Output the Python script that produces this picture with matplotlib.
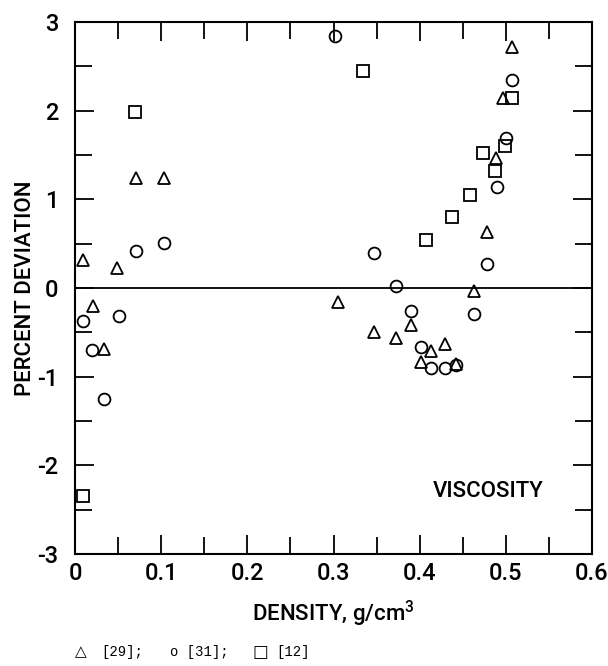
import matplotlib
matplotlib.use("Agg")
import matplotlib.pyplot as plt
from matplotlib.ticker import MultipleLocator

# deviation data, percent vs density (g/cm3)
tri_x = [0.009, 0.021, 0.034, 0.049, 0.071, 0.103, 0.305, 0.347, 0.372, 0.390,
         0.401, 0.413, 0.429, 0.442, 0.463, 0.478, 0.489, 0.497, 0.507]
tri_y = [0.32, -0.20, -0.69, 0.22, 1.24, 1.24, -0.16, -0.50, -0.56, -0.42,
         -0.83, -0.71, -0.63, -0.86, -0.03, 0.63, 1.47, 2.14, 2.72]

circ_x = [0.009, 0.020, 0.034, 0.051, 0.071, 0.103, 0.302, 0.347, 0.372, 0.390,
          0.402, 0.413, 0.429, 0.442, 0.463, 0.478, 0.490, 0.500, 0.507]
circ_y = [-0.37, -0.70, -1.25, -0.32, 0.42, 0.51, 2.84, 0.39, 0.02, -0.26,
          -0.67, -0.90, -0.90, -0.87, -0.29, 0.27, 1.14, 1.69, 2.35]

sq_x = [0.009, 0.070, 0.334, 0.407, 0.437, 0.458, 0.473, 0.487, 0.499, 0.507]
sq_y = [-2.35, 1.98, 2.45, 0.54, 0.80, 1.05, 1.52, 1.32, 1.60, 2.14]

plt.rcParams['font.family'] = ['Roboto', 'DejaVu Sans']
plt.rcParams['axes.unicode_minus'] = False
plt.rcParams['mathtext.fontset'] = 'custom'
plt.rcParams['mathtext.rm'] = 'Roboto'

fig = plt.figure(figsize=(6.08, 6.66), dpi=100)
ax = fig.add_axes([75/608, 1-554/666, 517/608, 532/666])

mk = dict(linestyle='none', markerfacecolor='none', markeredgecolor='black',
          markeredgewidth=1.3, clip_on=False)
ax.plot(tri_x, tri_y, marker='^', markersize=8.5, **mk)
ax.plot(circ_x, circ_y, marker='o', markersize=8.5, **mk)
ax.plot(sq_x, sq_y, marker='s', markersize=8, **mk)

ax.axhline(0, color='black', linewidth=1.3)

ax.set_xlim(0, 0.6)
ax.set_ylim(-3, 3)
ax.xaxis.set_major_locator(MultipleLocator(0.1))
ax.xaxis.set_minor_locator(MultipleLocator(0.05))
ax.yaxis.set_major_locator(MultipleLocator(1))
ax.yaxis.set_minor_locator(MultipleLocator(0.5))
ax.xaxis.set_major_formatter(plt.FuncFormatter(lambda v, p: '0' if v == 0 else f'{v:.1f}'))
ax.tick_params(which='both', direction='in', top=True, right=True, width=1.3)
ax.tick_params(which='major', length=14, labelsize=17, pad=6)
ax.tick_params(which='minor', length=12)
ax.tick_params(axis='y', which='major', pad=12)
for lab in ax.get_xticklabels() + ax.get_yticklabels():
    lab.set_fontweight('medium')
for s in ax.spines.values():
    s.set_linewidth(1.5)

ax.set_xlabel('DENSITY, g/cm$^\\mathregular{3}$', fontsize=16, fontweight='medium',
              labelpad=10)
ax.set_ylabel('PERCENT DEVIATION', fontsize=16, fontweight='medium', labelpad=1)
ax.text(0.479, -2.29, 'VISCOSITY', fontsize=16, fontweight='medium',
        ha='center', va='center')

# key for the three data sources
key_y = 1 - 652/666
mono = ['Liberation Mono', 'DejaVu Sans Mono']
fig.text(75/608, key_y, '\u25b3', fontsize=11, family='DejaVu Sans', va='center')
fig.text(101/608, key_y, '[29];', fontsize=10, family=mono, va='center')
fig.text(170/608, key_y, 'o [31];', fontsize=10, family=mono, va='center')
fig.text(253/608, key_y, '\u25a1', fontsize=12, family='DejaVu Sans', va='center')
fig.text(276/608, key_y, '[12]', fontsize=10, family=mono, va='center')

fig.savefig('out.png', dpi=100)
